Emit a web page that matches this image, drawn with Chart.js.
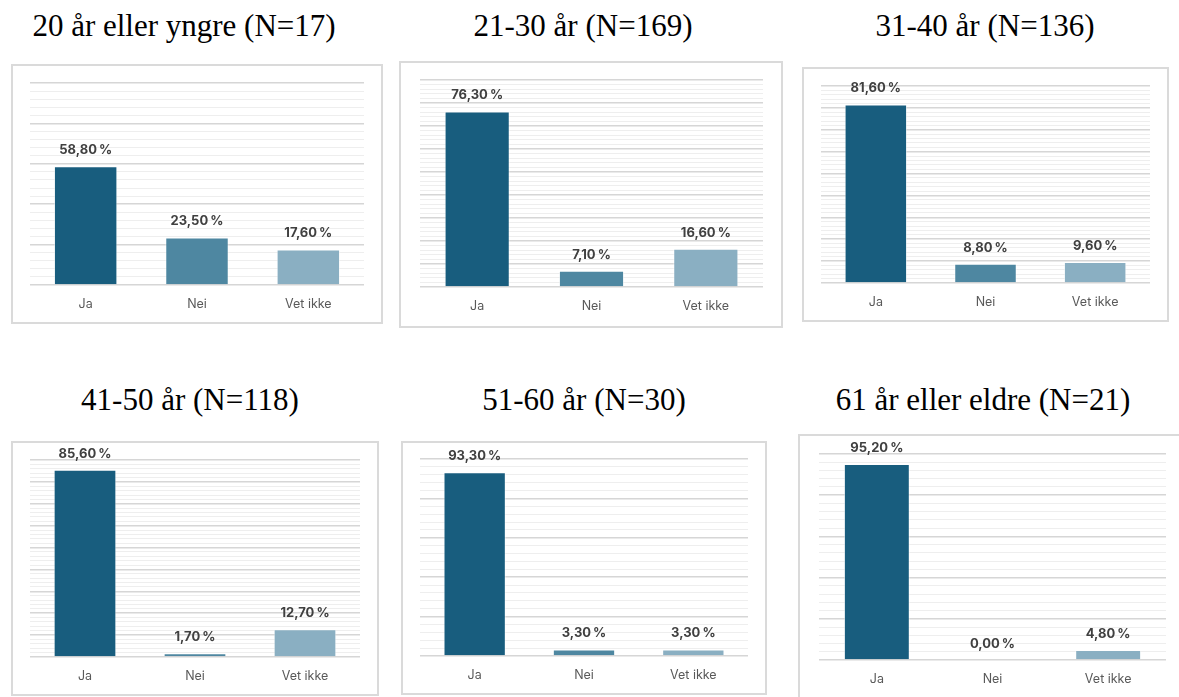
<!DOCTYPE html>
<html>
<head>
<meta charset="utf-8">
<script src="https://cdn.jsdelivr.net/npm/chart.js@4/dist/chart.umd.min.js"></script>
<style>
  html, body { margin: 0; padding: 0; background: #fff; overflow: hidden; }
  body { width: 1179px; height: 697px; position: relative; }
  .title {
    position: absolute; width: 400px; text-align: center;
    font-family: "Liberation Serif", "Times New Roman", serif;
    font-size: 31px; line-height: 31px; color: #000; white-space: nowrap;
  }
  .box {
    position: absolute; box-sizing: border-box;
    border: 2px solid #dadada; background: #fff;
  }
  .box canvas { position: absolute; left: -2px; top: -2px; }
</style>
</head>
<body>
<script>
// data (percent)
const categories = ['Ja', 'Nei', 'Vet ikke'];
const groupTitles = [
  '20 år eller yngre (N=17)',
  '21-30 år (N=169)',
  '31-40 år (N=136)',
  '41-50 år (N=118)',
  '51-60 år (N=30)',
  '61 år eller eldre (N=21)'
];
const jaValues      = [58.8, 76.3, 81.6, 85.6, 93.3, 95.2];
const neiValues     = [23.5,  7.1,  8.8,  1.7,  3.3,  0.0];
const vetIkkeValues = [17.6, 16.6,  9.6, 12.7,  3.3,  4.8];
// y axis of each small chart
const axisMax    = [100, 90, 90, 90, 100, 100];
const majorSteps = [20, 10, 10, 10, 20, 20];
const minorSteps = [4, 2, 2, 2, 4, 4];

const barColors = ['#185d7e', '#4e87a1', '#8aafc2'];

// where each panel sits on the page: box, plot area, title centre
const panels = [
  { box: [11, 64, 372, 260],  plot: [30, 83, 364, 284],  title: [184, 26] },
  { box: [399, 61, 384, 267], plot: [420, 80, 763, 286], title: [583, 26] },
  { box: [802, 67, 367, 255], plot: [821, 86, 1150, 282], title: [985, 26] },
  { box: [11, 441, 368, 255], plot: [30, 460, 360, 656], title: [190, 400] },
  { box: [401, 441, 366, 254], plot: [420, 459, 748, 655], title: [584, 400] },
  { box: [798, 434, 420, 290], plot: [819, 454, 1166, 659], title: [983, 400] }
];

const formatPct = v => v.toFixed(2).replace('.', ',') + '\u2009%';

const valueLabels = {
  id: 'valueLabels',
  afterDatasetsDraw(chart) {
    const ctx = chart.ctx;
    const meta = chart.getDatasetMeta(0);
    ctx.save();
    ctx.font = 'bold 13px Inter, "Noto Sans", sans-serif';
    ctx.fillStyle = '#404040';
    ctx.textAlign = 'center';
    ctx.textBaseline = 'middle';
    meta.data.forEach((bar, i) => {
      const v = chart.data.datasets[0].data[i];
      ctx.fillText(formatPct(v), bar.x, bar.y - 16);
    });
    ctx.restore();
  }
};

const isMajor = (v, step) => Math.abs(v / step - Math.round(v / step)) < 1e-6;

panels.forEach((p, i) => {
  const [bx, by, bw, bh] = p.box;
  const [px1, py1, px2, py2] = p.plot;

  const title = document.createElement('div');
  title.className = 'title';
  title.style.left = (p.title[0] - 200) + 'px';
  title.style.top = (p.title[1] - 16) + 'px';
  title.textContent = groupTitles[i];
  document.body.appendChild(title);

  const box = document.createElement('div');
  box.className = 'box';
  box.style.left = bx + 'px';
  box.style.top = by + 'px';
  box.style.width = bw + 'px';
  box.style.height = bh + 'px';
  document.body.appendChild(box);

  const canvas = document.createElement('canvas');
  canvas.style.width = bw + 'px';
  canvas.style.height = bh + 'px';
  box.appendChild(canvas);

  const labelPad = 12;
  // x axis height measured from the first render
  const axisHeight = 40;
  const bottomPad = (by + bh) - py2 - axisHeight;

  new Chart(canvas, {
    type: 'bar',
    data: {
      labels: categories,
      datasets: [{
        data: [jaValues[i], neiValues[i], vetIkkeValues[i]],
        backgroundColor: barColors,
        borderColor: 'rgba(255,255,255,0.5)',
        borderWidth: 1,
        barPercentage: 0.57,
        categoryPercentage: 1
      }]
    },
    options: {
      responsive: false,
      animation: false,
      layout: {
        padding: { left: px1 - bx, right: (bx + bw) - px2, top: py1 - by, bottom: bottomPad }
      },
      plugins: { legend: { display: false }, tooltip: { enabled: false } },
      scales: {
        x: {
          grid: { display: false, drawTicks: false },
          border: { display: false },
          ticks: { color: '#595959', padding: labelPad, font: { family: 'Inter, "Noto Sans", sans-serif', size: 12.5 } }
        },
        y: {
          min: 0,
          max: axisMax[i],
          border: { display: false },
          ticks: { display: false, stepSize: minorSteps[i] },
          grid: {
            drawTicks: false,
            color: c => isMajor(c.tick.value, majorSteps[i]) ? '#d6d6d6' : '#eeeeee',
            lineWidth: c => isMajor(c.tick.value, majorSteps[i]) ? 1.5 : 1
          }
        }
      }
    },
    plugins: [valueLabels]
  });
});
</script>
</body>
</html>
